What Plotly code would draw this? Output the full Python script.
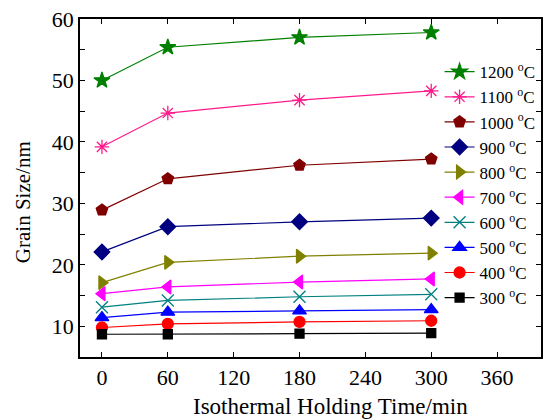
import plotly.graph_objects as go

# Isothermal holding times (min)
time_min = [0, 60, 180, 300]

# Grain size (nm) for each annealing temperature
temps = ["1200", "1100", "1000", "900", "800", "700", "600", "500", "400", "300"]
grain_1200 = [50.0, 55.4, 57.0, 57.8]
grain_1100 = [39.2, 44.7, 46.8, 48.3]
grain_1000 = [28.9, 34.0, 36.2, 37.2]
grain_900 = [22.1, 26.2, 27.0, 27.6]
grain_800 = [17.1, 20.4, 21.4, 21.9]
grain_700 = [15.3, 16.4, 17.2, 17.7]
grain_600 = [13.1, 14.2, 14.8, 15.2]
grain_500 = [11.4, 12.3, 12.5, 12.7]
grain_400 = [9.8, 10.4, 10.7, 10.9]
grain_300 = [8.7, 8.7, 8.8, 8.9]

series = [grain_1200, grain_1100, grain_1000, grain_900, grain_800,
          grain_700, grain_600, grain_500, grain_400, grain_300]

colors = ["#008000", "#FF1A8C", "#800000", "#000080", "#808000",
          "#FF00FF", "#008080", "#0000FF", "#FF0000", "#000000"]
symbols = ["star", "asterisk-open", "pentagon", "diamond", "triangle-right",
           "triangle-left", "x-thin-open", "triangle-up", "circle", "square"]
sizes = [12, 12, 12, 12, 12, 12, 12, 12, 11, 9]

FONT = "Liberation Serif, Times New Roman, serif"

fig = go.Figure()
for t, y, c, s, sz in zip(temps, series, colors, symbols, sizes):
    fig.add_trace(go.Scatter(
        x=time_min, y=y, mode="lines+markers",
        name=f"{t} <sup>o</sup>C",
        line=dict(color=c, width=1.2),
        marker=dict(symbol=s, size=sz, color=c,
                    line=dict(color=c, width=1.3)),
    ))

axis_common = dict(
    showline=True, linecolor="black", linewidth=1.6, mirror="ticks",
    ticks="inside", ticklen=5, tickwidth=1.2, tickcolor="black",
    showgrid=False, zeroline=False,
    tickfont=dict(family=FONT, size=22, color="black"),
)

fig.update_xaxes(
    range=[-20, 400], tickvals=[0, 60, 120, 180, 240, 300, 360],
    **axis_common,
)
fig.update_yaxes(
    range=[5, 60], dtick=10, tick0=0,
    minor=dict(dtick=5, ticks="inside", ticklen=5, tickcolor="black", tickwidth=1.2),
    **axis_common,
)

# Axis titles placed as annotations
fig.add_annotation(
    text="Isothermal Holding Time/min", xref="paper", yref="paper",
    x=0.544, y=-0.145, xanchor="center", yanchor="middle", showarrow=False,
    font=dict(family=FONT, size=23, color="black"),
)
fig.add_annotation(
    text="Grain Size/nm", xref="paper", yref="paper", textangle=-90,
    x=-0.123, y=0.459, xanchor="center", yanchor="middle", showarrow=False,
    font=dict(family=FONT, size=21, color="black"),
)

fig.update_layout(
    width=545, height=420,
    margin=dict(l=80, r=2, t=19, b=63),
    paper_bgcolor="white", plot_bgcolor="white",
    showlegend=True,
    legend=dict(
        x=0.78, y=0.896, xanchor="left", yanchor="top",
        bgcolor="rgba(0,0,0,0)", borderwidth=0,
        font=dict(family=FONT, size=17, color="black"),
        tracegroupgap=0,
    ),
)

fig.write_html("out.html")
